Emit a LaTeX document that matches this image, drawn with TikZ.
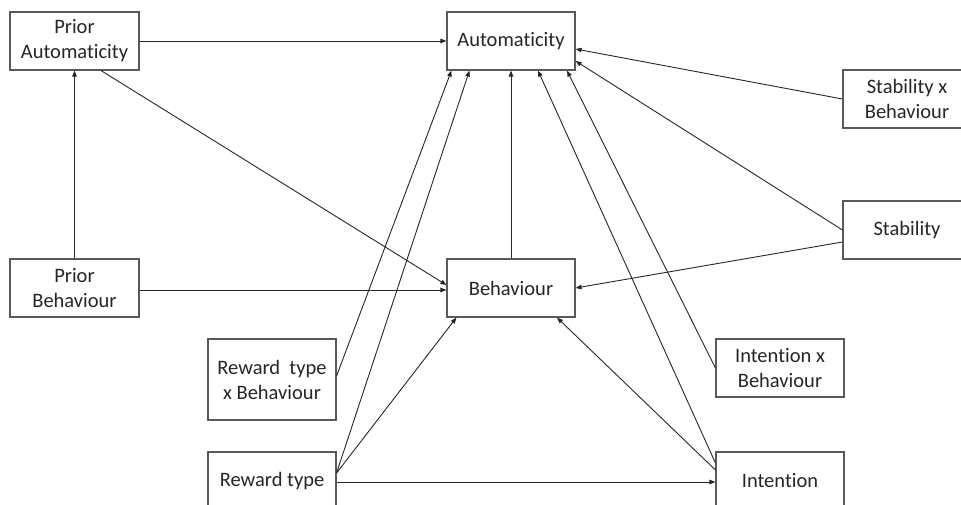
\documentclass[tikz,border=0pt]{standalone}
\usepackage{fontspec}
\setmainfont[Ligatures=NoCommon]{Carlito}
\usetikzlibrary{arrows.meta}
\begin{document}
\begin{tikzpicture}[x=1pt,y=-1pt,
  box/.style={draw=black!65,line width=1.1pt,fill=white,minimum width=128pt,minimum height=58pt,
    inner sep=0pt,align=center,text=black!85,font=\fontsize{20.5}{25}\selectfont},
  link/.style={draw=black!85,line width=0.9pt,-{Triangle[length=6pt,width=4.5pt]}}]
\useasboundingbox (0,0) rectangle (961,504);
\clip (0,0) rectangle (961,504);
% boxes
\node[box,minimum width=129pt] (pa) at (74.5,41) {Prior\\Automaticity};
\node[box] (au) at (511,41) {Automaticity};
\node[box] (sxb) at (907,99) {Stability x\\Behaviour};
\node[box] (st) at (907,230) {Stability};
\node[box] (be) at (511,288) {Behaviour};
\node[box,minimum width=129pt] (pb) at (74.5,288) {Prior\\Behaviour};
\node[box,minimum height=81pt] (rxb) at (272,379.5) {Reward\ \ type\\x Behaviour};
\node[box] (rt) at (272,481) {Reward type};
\node[box] (ixb) at (780,368) {Intention x\\Behaviour};
\node[box] (in) at (780,481) {Intention};
% paths into Automaticity
\draw[link] (pa.east) -- (au.west);
\draw[link] (pb.north) -- (pa.south);
\draw[link] (be.north) -- (au.south);
\draw[link] ([yshift=3.5pt]rxb.east) -- ([xshift=5pt]au.south west);
\draw[link] ([yshift=8pt]rt.east) -- ([xshift=23pt]au.south west);
\draw[link] ([yshift=18pt]in.west) -- ([xshift=27pt]au.south);
\draw[link] (ixb.west) -- ([xshift=56pt]au.south);
\draw[link] (sxb.west) -- ([yshift=-8pt]au.east);
\draw[link] (st.west) -- ([yshift=-20pt]au.east);
% paths into Behaviour
\draw[link] ([xshift=26.5pt]pa.south) -- ([yshift=3pt]be.west);
\draw[link] ([yshift=-2pt]pb.east) -- ([yshift=-2pt]be.west);
\draw[link] ([yshift=8pt]rt.east) -- ([xshift=10pt]be.south west);
\draw[link] ([yshift=11pt]in.west) -- ([xshift=46pt]be.south);
\draw[link] ([yshift=-12pt]st.west) -- (be.east);
% path into Intention
\draw[link] ([yshift=-1pt]rt.east) -- ([yshift=-1pt]in.west);
\end{tikzpicture}
\end{document}
